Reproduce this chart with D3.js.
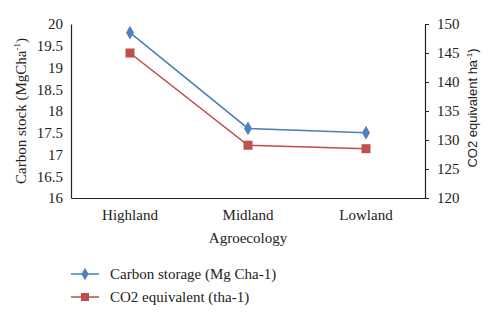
<!DOCTYPE html>
<html>
<head>
<meta charset="utf-8">
<script src="https://cdn.jsdelivr.net/npm/d3@7"></script>
<style>
  body { margin: 0; background: #fff; }
</style>
</head>
<body>
<svg id="chart" width="500" height="322"></svg>
<script>
const categories = ["Highland", "Midland", "Lowland"];
const carbonStorage = [19.8, 17.6, 17.5];
const co2Equivalent = [145, 129.1, 128.5];
const leftTicks = [16, 16.5, 17, 17.5, 18, 18.5, 19, 19.5, 20];
const rightTicks = [120, 125, 130, 135, 140, 145, 150];

const serif = "Liberation Serif";
const sans = "Liberation Sans";
const ink = "#222";

const svg = d3.select("#chart");
const plotLeft = 71, plotRight = 425, plotTop = 24, plotBottom = 198;

const x = d3.scaleBand()
  .domain(categories)
  .range([plotLeft, plotRight]);

const yLeft = d3.scaleLinear().domain([16, 20]).range([plotBottom, plotTop]);
const yRight = d3.scaleLinear().domain([120, 150]).range([plotBottom, plotTop]);

function styleAxis(g) {
  g.attr("font-family", serif).attr("font-size", 15);
  g.select(".domain").attr("stroke", ink).attr("stroke-width", 1.2);
  g.selectAll(".tick line").attr("stroke", ink);
  g.selectAll("text").attr("fill", ink).attr("font-family", serif).attr("font-size", 15);
}

// left axis, no tick marks
svg.append("g")
  .attr("transform", `translate(${plotLeft},0)`)
  .call(d3.axisLeft(yLeft).tickValues(leftTicks).tickSize(0).tickPadding(8).tickFormat(d3.format("")))
  .call(styleAxis);

// right axis with outer ticks
svg.append("g")
  .attr("transform", `translate(${plotRight},0)`)
  .call(d3.axisRight(yRight).tickValues(rightTicks).tickSizeInner(4).tickSizeOuter(0).tickPadding(8))
  .call(styleAxis);

// bottom axis
svg.append("g")
  .attr("transform", `translate(0,${plotBottom})`)
  .call(d3.axisBottom(x).tickSize(0).tickPadding(11))
  .call(styleAxis);

// axis titles
svg.append("text")
  .attr("x", (plotLeft + plotRight) / 2)
  .attr("y", 243)
  .attr("text-anchor", "middle")
  .attr("font-family", serif)
  .attr("font-size", 15)
  .attr("fill", ink)
  .text("Agroecology");

const leftTitle = svg.append("text")
  .attr("transform", `translate(26,${(plotTop + plotBottom) / 2}) rotate(-90)`)
  .attr("text-anchor", "middle")
  .attr("font-family", serif)
  .attr("font-size", 15)
  .attr("fill", ink);
leftTitle.append("tspan").text("Carbon stock (MgCha");
leftTitle.append("tspan").attr("font-size", 9).attr("dy", -6).text("-1");
leftTitle.append("tspan").attr("dy", 6).text(")");

const rightTitle = svg.append("text")
  .attr("transform", `translate(477,108) rotate(-90)`)
  .attr("text-anchor", "middle")
  .attr("font-family", sans)
  .attr("font-size", 13)
  .attr("fill", ink);
rightTitle.append("tspan").text("CO2 equivalent ha");
rightTitle.append("tspan").attr("font-size", 8).attr("dy", -5).text("-1");
rightTitle.append("tspan").attr("dy", 5).text(")");

const cx = d => x(d) + x.bandwidth() / 2;
const blue = "#4a7ebb", red = "#be4b48";

// carbon storage line
svg.append("path")
  .datum(carbonStorage)
  .attr("fill", "none")
  .attr("stroke", blue)
  .attr("stroke-width", 1.5)
  .attr("d", d3.line().x((d, i) => cx(categories[i])).y(d => yLeft(d)));

svg.selectAll(".diamond")
  .data(carbonStorage)
  .enter()
  .append("path")
  .attr("class", "diamond")
  .attr("transform", (d, i) => `translate(${cx(categories[i])},${yLeft(d)})`)
  .attr("d", d3.symbol(d3.symbolDiamond, 55))
  .attr("fill", "#4f81bd");

// co2 line
svg.append("path")
  .datum(co2Equivalent)
  .attr("fill", "none")
  .attr("stroke", red)
  .attr("stroke-width", 1.5)
  .attr("d", d3.line().x((d, i) => cx(categories[i])).y(d => yRight(d)));

svg.selectAll(".square")
  .data(co2Equivalent)
  .enter()
  .append("rect")
  .attr("class", "square")
  .attr("x", (d, i) => cx(categories[i]) - 4.5)
  .attr("y", d => yRight(d) - 4.5)
  .attr("width", 9)
  .attr("height", 9)
  .attr("fill", "#c0504d");

// legend
const legendItems = [
  { label: "Carbon storage (Mg Cha-1)", color: blue, fill: "#4f81bd", shape: "diamond" },
  { label: "CO2 equivalent (tha-1)", color: red, fill: "#c0504d", shape: "square" }
];

const legend = svg.append("g").attr("transform", "translate(71,274)");

legendItems.forEach((item, i) => {
  const g = legend.append("g").attr("transform", `translate(0,${i * 23})`);
  g.append("line")
    .attr("x1", 0).attr("x2", 28)
    .attr("stroke", item.color)
    .attr("stroke-width", 1.5);
  if (item.shape === "diamond") {
    g.append("path")
      .attr("transform", "translate(14,0)")
      .attr("d", d3.symbol(d3.symbolDiamond, 45))
      .attr("fill", item.fill);
  } else {
    g.append("rect")
      .attr("x", 10).attr("y", -4)
      .attr("width", 8).attr("height", 8)
      .attr("fill", item.fill);
  }
  g.append("text")
    .attr("x", 39)
    .attr("y", 5)
    .attr("font-family", serif)
    .attr("font-size", 15)
    .attr("fill", ink)
    .text(item.label);
});
</script>
</body>
</html>
